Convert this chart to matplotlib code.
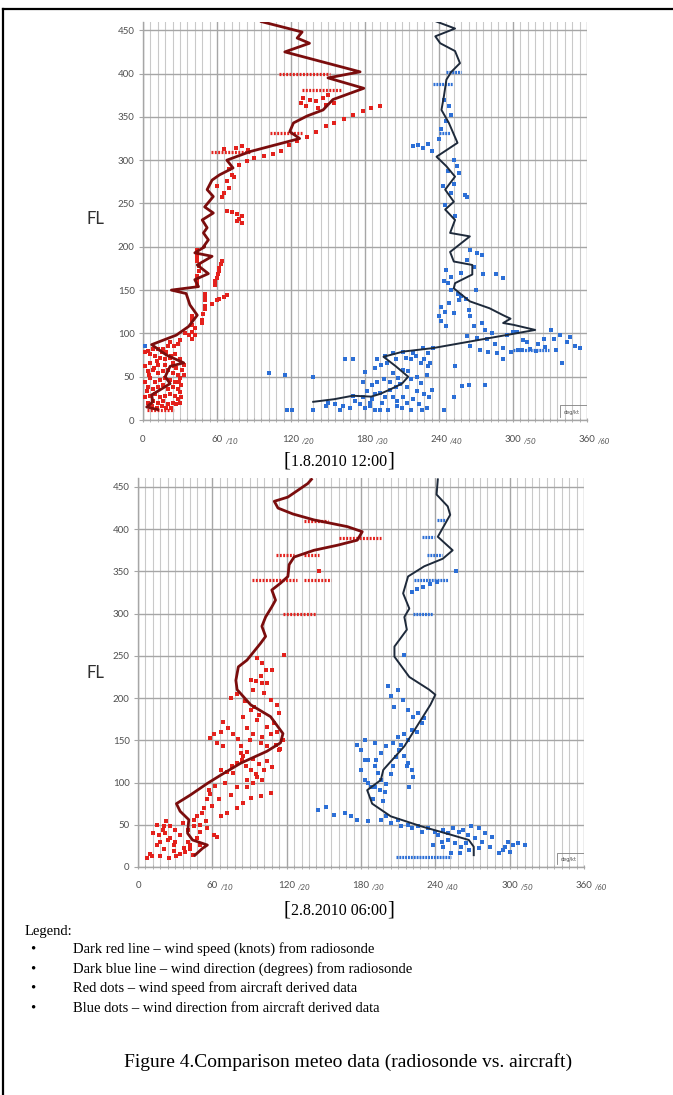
"""Radiosonde vs. aircraft wind profiles (two soundings), recreated with matplotlib."""

import matplotlib
matplotlib.use('Agg')
import matplotlib.pyplot as plt
from matplotlib.lines import Line2D
from matplotlib.ticker import MultipleLocator
import matplotlib.transforms as mtransforms

# ---------------------------------------------------------------- data
# x values are in degrees (0-360); wind speed is plotted as knots*6 so 60 deg = 10 kt
X_TICKS = [0, 60, 120, 180, 240, 300, 360]
X_MAIN = ['0', '60', '120', '180', '240', '300', '360']
X_SUFFIX = ['', '/10', '/20', '/30', '/40', '/50', '/60']
Y_TICKS = [0, 50, 100, 150, 200, 250, 300, 350, 400, 450]

# --- 1.8.2010 12:00
T_SPEED_X = [96, 129, 125, 135, 115, 176, 150, 179, 154, 146, 133, 122, 119, 127, 87, 68, 73,
             62, 56, 52, 57, 50, 57, 48, 52, 49, 53, 49, 50, 42, 56, 44, 53, 42, 45, 23, 35,
             38, 44, 37, 27, 7, 19, 33, 22, 18, 22, 14, 7, 8, 3, 12]
T_SPEED_FL = [460, 448, 441, 435, 425, 402, 395, 383, 370, 358, 351, 343, 333, 325, 310, 300,
              291, 283, 277, 266, 258, 246, 239, 231, 222, 216, 208, 200, 200, 193, 189, 179,
              169, 162, 154, 150, 146, 133, 121, 108, 98, 87, 75, 66, 62, 50, 42, 35, 29, 21,
              15, 12]
T_DIR_X = [238, 253, 237, 241, 253, 257, 250, 246, 244, 242, 248, 255, 238, 246, 253, 245,
           252, 245, 253, 249, 265, 249, 252, 267, 267, 253, 252, 265, 281, 292, 298, 292,
           300, 318, 235, 211, 195, 205, 215, 210, 200, 192, 185, 170, 155, 138]
T_DIR_FL = [460, 452, 443, 435, 426, 412, 402, 393, 374, 358, 343, 320, 304, 293, 281, 266,
            252, 243, 231, 216, 212, 194, 183, 179, 168, 158, 152, 137, 129, 121, 117, 112,
            110, 104, 83, 79, 73, 62, 50, 42, 35, 30, 27, 28, 24, 21]
T_RED_X = [130, 135, 140, 146, 150, 128, 132, 142, 148, 155,
           75, 80, 85, 66,
           192, 185, 178, 170, 163, 155, 148, 140, 133, 125, 118, 112, 105, 98, 90, 84, 78,
           70, 72, 68, 70, 66, 64, 74, 60,
           68, 72, 76, 80, 78, 80, 76,
           44, 44, 44, 44, 45, 45, 44, 44, 44,
           64, 63, 62, 62, 61, 60, 58, 58,
           62, 66, 68, 60, 56,
           50, 50, 50, 50, 50, 49, 48, 48,
           40, 40, 40, 42, 40, 42, 40, 37, 34,
           30, 28, 25, 22, 20, 16, 12, 8, 4, 2, 6, 10, 14, 18, 22, 26, 30, 24, 18, 12, 6, 2,
           4, 8, 12, 16, 20, 24, 28, 30, 26, 22, 18, 14, 10, 6, 2, 4, 8, 12, 16, 20, 24, 28,
           30, 26, 22, 18, 14, 10, 6, 2, 4, 8, 12, 16, 20, 24, 28, 30,
           32, 33, 31, 29, 27, 25, 23, 19, 15, 11, 9, 5, 3, 7, 11, 15, 19, 23, 27, 31, 33]
T_RED_FL = [372, 370, 368, 372, 375, 366, 362, 360, 364, 366,
            314, 316, 312, 313,
            362, 360, 357, 352, 348, 343, 340, 332, 327, 322, 318, 311, 307, 305, 302, 299, 295,
            290, 283, 276, 268, 262, 258, 280, 270,
            241, 240, 238, 236, 232, 228, 230,
            196, 192, 188, 184, 178, 172, 166, 160, 156,
            184, 180, 176, 172, 168, 164, 160, 156,
            140, 142, 144, 138, 134,
            146, 142, 138, 132, 128, 122, 116, 112,
            120, 115, 110, 106, 102, 98, 94, 98, 100,
            92, 88, 85, 90, 86, 82, 82, 82, 80, 78, 76, 74, 72, 70, 72, 76, 70, 66, 64, 64, 66,
            62, 56, 58, 54, 56, 58, 54, 52, 48, 44, 46, 48, 46, 44, 48, 44, 38, 36, 38, 40, 36,
            38, 36, 32, 28, 30, 28, 26, 30, 28, 26, 20, 22, 20, 22, 18, 20, 24, 20,
            58, 64, 40, 44, 60, 62, 74, 78, 78, 68, 60, 52, 34, 16, 14, 16, 14, 14, 18, 26, 52]
# horizontal runs of aircraft reports: (FL, x from, x to)
T_RED_RUNS = [(400, 110, 152), (381, 129, 161), (331, 103, 129), (310, 55, 87), (12, 3, 25)]
T_BLUE_X = [219, 223, 227, 231, 234, 254.5, 256, 261, 263, 252,
            244, 248, 250, 246, 242, 240, 252, 247, 243, 250, 245, 253,
            265, 271, 275, 263, 268, 276, 286, 292, 246, 247, 250, 255, 258, 242, 240, 242, 246,
            252, 264, 265, 268, 263, 271, 277, 279, 265, 273, 280, 287, 292, 298, 292, 304, 295,
            300, 307, 314, 319, 325, 331, 333, 338, 335, 344, 354, 340, 311, 303, 253, 259, 264,
            277, 252, 244,
            190, 196, 203, 211, 219, 227, 231, 235, 217, 225, 231, 211, 203, 195, 207, 217, 225,
            234, 208, 200, 192, 203, 211, 219, 186, 194, 206, 217, 184, 199,
            102, 115, 138, 117, 121, 138, 164, 170, 180, 150, 156, 162, 168, 172, 176, 180, 184,
            188, 160, 170, 178, 148, 2,
            188, 193, 198, 205, 213, 221, 228, 233, 186, 190, 200, 205, 214, 222, 228, 232, 188,
            196, 206, 214, 224, 230, 192, 210, 226, 182, 178, 215, 222, 230,
            245, 248, 256, 262, 244, 250, 258, 270, 275, 283, 285, 308, 320, 326, 346, 350]
T_BLUE_FL = [316, 318, 314, 319, 311, 293, 285, 260, 258, 273,
             370, 362, 352, 345, 336, 325, 300, 288, 270, 262, 248, 236,
             196, 193, 191, 185, 177, 169, 168, 164, 173, 158, 150, 146, 143, 131, 120, 114, 108,
             123, 127, 120, 108, 97, 95, 104, 93, 85, 81, 79, 77, 83, 79, 70, 81, 98,
             102, 81, 82, 80, 94, 104, 94, 98, 81, 90, 83, 66, 90, 102, 62, 39, 40,
             40, 27, 12,
             70, 74, 77, 79, 77, 83, 77, 83, 70, 66, 62, 58, 54, 47, 49, 47, 43,
             35, 41, 35, 31, 27, 27, 24, 24, 20, 16, 12, 16, 12,
             54, 52, 50, 12, 12, 12, 70, 70, 55, 20, 18, 16, 14, 22, 18, 14, 20,
             12, 12, 28, 26, 16, 85,
             60, 64, 66, 70, 72, 74, 70, 66, 40, 44, 44, 38, 38, 34, 30, 26, 30,
             26, 22, 20, 18, 14, 12, 14, 12, 34, 44, 56, 50, 52,
             125, 135, 138, 140, 160, 165, 170, 150, 112, 100, 88, 92, 88, 84, 96, 86]
T_BLUE_RUNS = [(402, 246, 258), (388, 235, 251), (331, 240, 249), (81, 300, 329)]

# --- 2.8.2010 06:00
B_SPEED_X = [140, 137, 121, 110, 113, 125, 142, 169, 181, 177, 161, 142, 126, 122, 121, 115,
             108, 111, 108, 103, 100, 103, 99, 88, 81, 79, 80, 91, 107, 117, 115, 104, 83, 67,
             56, 42, 31, 34, 41, 40, 44, 56, 52, 46]
B_SPEED_FL = [459, 454, 438, 433, 425, 418, 411, 403, 397, 387, 381, 375, 367, 358, 344, 336,
              328, 316, 308, 296, 285, 273, 265, 245, 237, 221, 210, 192, 178, 158, 147, 137,
              123, 109, 99, 85, 75, 66, 56, 40, 32, 26, 22, 14]
B_DIR_X = [242, 241, 250, 252, 242, 254, 246, 231, 218, 214, 219, 215, 217, 207, 207, 219,
           235, 240, 236, 215, 198, 196, 185, 189, 204, 229, 253, 267, 271, 271]
B_DIR_FL = [459, 441, 427, 417, 391, 375, 365, 356, 344, 324, 306, 296, 281, 261, 249, 225,
            210, 204, 192, 143, 115, 103, 91, 75, 60, 48, 38, 32, 24, 14]
B_RED_X = [146, 118,
           85, 91, 96, 104, 112, 114, 88, 93, 100, 107, 111, 114, 104, 99,
           91, 100, 93, 102, 107,
           96, 100, 103, 99, 108, 104, 95,
           69, 73, 77, 67, 58, 64, 69, 61,
           81, 83, 83, 84, 80, 85, 87,
           67, 72, 77, 91, 96, 102, 100, 88, 80, 88, 93, 107, 99, 91, 85, 80, 72, 67, 56, 57,
           58, 53, 52, 48, 45, 50, 56, 61, 64,
           15, 21, 23, 17, 22, 26, 34, 40, 48, 29, 15, 21, 29, 34, 37, 10, 7, 11, 18, 25, 31,
           42, 50,
           75, 80, 86, 94, 98, 110, 112, 117, 115, 90, 88, 93, 98, 104, 108, 95, 76, 70, 62,
           75, 65, 60, 55, 50, 45, 40, 36, 30, 26, 20, 12, 18, 24, 30, 42, 38, 44]
B_RED_FL = [350, 251,
            178, 186, 174, 166, 192, 182, 164, 158, 154, 158, 145, 139, 143, 147,
            221, 218, 210, 206, 198,
            247, 241, 233, 226, 233, 218, 220,
            172, 164, 157, 160, 153, 147, 143, 157,
            151, 143, 135, 127, 123, 131, 119,
            115, 113, 111, 115, 107, 115, 103, 103, 95, 95, 99, 88, 84, 82, 76, 70, 64, 60, 80, 91,
            86, 70, 64, 60, 56, 50, 46, 38, 36,
            50, 48, 54, 38, 40, 34, 38, 30, 34, 26, 26, 21, 19, 15, 23, 15, 11, 13, 13, 11, 13,
            21, 26,
            200, 205, 196, 190, 180, 170, 160, 150, 140, 150, 136, 128, 122, 126, 118, 110, 120,
            100, 96, 85, 80, 72, 55, 42, 48, 44, 52, 44, 48, 44, 40, 30, 32, 30, 26, 18, 14]
B_RED_RUNS = [(410, 134, 153), (389, 162, 196), (369, 111, 126), (369, 134, 146),
              (340, 92, 128), (340, 134, 156), (300, 117, 144)]
B_BLUE_X = [257, 241, 236, 230, 225, 221, 215,
            202, 204, 207, 210, 214, 218, 222, 226, 229, 231, 221, 215, 210, 206, 200, 196, 192,
            211, 215, 218, 221, 222, 217, 219, 194, 196, 191, 195, 199,
            196, 204, 212, 221, 229, 240, 242, 250, 259, 269, 275, 280, 286, 250, 256, 261, 267,
            275, 291, 296, 299, 307, 312, 295, 246, 253,
            177, 180, 183, 180, 183, 188, 186, 191, 145, 152, 158, 167, 172, 177, 186, 183, 191,
            200, 210, 218, 226, 234, 246, 254, 262, 266, 272, 278, 284, 245, 238, 260, 265, 300,
            303, 206, 208, 212, 218, 225, 204, 200, 198, 190, 186]
B_BLUE_FL = [350, 338, 335, 332, 329, 326, 251,
             214, 202, 190, 210, 198, 186, 178, 182, 170, 176, 162, 158, 154, 147, 143, 135, 127,
             139, 131, 123, 115, 107, 119, 95, 111, 103, 95, 91, 89,
             56, 52, 48, 46, 42, 42, 38, 40, 42, 48, 46, 40, 36, 32, 28, 24, 20,
             22, 17, 24, 30, 28, 26, 20, 24, 17,
             145, 139, 127, 115, 103, 95, 127, 119, 67, 71, 62, 64, 60, 56, 54, 150, 147,
             60, 56, 50, 48, 46, 44, 46, 44, 38, 34, 30, 24, 30, 26, 16, 28, 18,
             26, 120, 130, 145, 150, 160, 110, 98, 78, 80, 100]
B_BLUE_RUNS = [(411, 241, 249), (391, 229, 239), (369, 233, 245), (340, 223, 250),
               (300, 222, 238), (12, 208, 253)]

# ---------------------------------------------------------------- style
W, H = 673, 1095
SPEED_LINE = '#7b0d0d'
DIR_LINE = '#1e2a3b'
RED_DOT = '#e3211c'
BLUE_DOT = '#2c6fd6'
TICK_GREY = '#505050'


def fx(px):
    return px / W


def fy(py):
    return 1 - py / H


def draw_panel(ax, speed, direction, red, blue, red_runs, blue_runs):
    ax.set_xlim(0, 360)
    ax.set_ylim(0, 460)

    ax.xaxis.set_major_locator(MultipleLocator(60))
    ax.xaxis.set_minor_locator(MultipleLocator(6))
    ax.set_yticks(Y_TICKS)
    ax.grid(which='minor', axis='x', color='#c9c9c9', lw=0.8)
    ax.grid(which='major', axis='x', color='#a6a6a6', lw=1.0)
    ax.grid(which='major', axis='y', color='#a6a6a6', lw=1.0)
    ax.set_axisbelow(True)

    for s in ('top', 'right'):
        ax.spines[s].set_visible(False)
    for s in ('left', 'bottom'):
        ax.spines[s].set_color('#a6a6a6')
        ax.spines[s].set_linewidth(1.0)
    ax.tick_params(axis='y', which='major', length=3, color='#a6a6a6', labelsize=7,
                   labelcolor=TICK_GREY, pad=3)
    ax.tick_params(axis='x', which='both', length=3, color='#a6a6a6', direction='inout',
                   labelbottom=False)
    for lbl in ax.get_yticklabels():
        lbl.set_fontfamily('Lato')

    # custom x labels: "120" + small lowered "/20" (knots scale)
    for xv, main, suf in zip(X_TICKS, X_MAIN, X_SUFFIX):
        tr = mtransforms.blended_transform_factory(ax.transData, ax.transAxes)
        ax.text(xv, -0.048, main, transform=tr, ha='center', va='center', fontsize=7,
                color=TICK_GREY, family='Lato')
        if suf:
            off = mtransforms.offset_copy(tr, fig=ax.figure, x=2.2 + 1.7 * len(main), y=-1.6,
                                          units='points')
            ax.text(xv, -0.048, suf, transform=off, ha='left', va='center', fontsize=5.8,
                    color=TICK_GREY, family='Lato', style='italic')

    # aircraft reports
    for fl, x0, x1 in red_runs:
        ax.plot([x0, x1], [fl, fl], color=RED_DOT, lw=2.3, ls=(0, (0.6, 0.45)), zorder=3)
    for fl, x0, x1 in blue_runs:
        ax.plot([x0, x1], [fl, fl], color=BLUE_DOT, lw=2.3, ls=(0, (0.6, 0.3)), zorder=3)
    ax.scatter(red[0], red[1], s=5.5, color=RED_DOT, marker='s', lw=0, zorder=3)
    ax.scatter(blue[0], blue[1], s=5.5, color=BLUE_DOT, marker='s', lw=0, zorder=3)

    # radiosonde profiles
    ax.plot(speed[0], speed[1], color=SPEED_LINE, lw=2.0, zorder=4, solid_joinstyle='round')
    ax.plot(direction[0], direction[1], color=DIR_LINE, lw=1.4, zorder=4,
            solid_joinstyle='round')

    # small unit box in the lower right corner
    ax.plot([338, 338, 360], [3, 17, 17], color='#808080', lw=0.6, zorder=5)
    ax.text(341, 9, 'deg/kt', fontsize=3.6, color='#505050', va='center', zorder=5)


fig = plt.figure(figsize=(W / 100, H / 100), dpi=100)

ax1 = fig.add_axes([fx(143), fy(420), fx(587) - fx(143), fy(21.6) - fy(420)])
draw_panel(ax1, (T_SPEED_X, T_SPEED_FL), (T_DIR_X, T_DIR_FL), (T_RED_X, T_RED_FL),
           (T_BLUE_X, T_BLUE_FL), T_RED_RUNS, T_BLUE_RUNS)

ax2 = fig.add_axes([fx(138), fy(867), fx(584) - fx(138), fy(478.5) - fy(867)])
draw_panel(ax2, (B_SPEED_X, B_SPEED_FL), (B_DIR_X, B_DIR_FL), (B_RED_X, B_RED_FL),
           (B_BLUE_X, B_BLUE_FL), B_RED_RUNS, B_BLUE_RUNS)

# axis name
fig.text(fx(86), fy(219), 'FL', fontsize=12, family='Lato', color='#303030', va='center')
fig.text(fx(86), fy(673), 'FL', fontsize=12, family='Lato', color='#303030', va='center')

# panel captions
serif = 'Liberation Serif'
for cy, label in ((462, '1.8.2010 12:00'), (911, '2.8.2010 06:00')):
    fig.text(fx(339), fy(cy), label, fontsize=11.5, family=serif, ha='center', va='center')
    fig.text(fx(287), fy(cy - 1), '[', fontsize=15, family=serif, ha='center', va='center')
    fig.text(fx(391), fy(cy - 1), ']', fontsize=15, family=serif, ha='center', va='center')

# legend block
fig.text(fx(25), fy(932), 'Legend:', fontsize=10.5, family=serif, va='center')
legend_lines = [
    'Dark red line \u2013 wind speed (knots) from radiosonde',
    'Dark blue line \u2013 wind direction (degrees) from radiosonde',
    'Red dots \u2013 wind speed from aircraft derived data',
    'Blue dots \u2013 wind direction from aircraft derived data',
]
for i, txt in enumerate(legend_lines):
    yy = 949 + i * 19.7
    fig.text(fx(30), fy(yy), '\u2022', fontsize=10.5, family=serif, va='center')
    fig.text(fx(73), fy(yy), txt, fontsize=10.5, family=serif, va='center')

fig.text(fx(348), fy(1062), 'Figure 4.Comparison meteo data (radiosonde vs. aircraft)',
         fontsize=14, family=serif, ha='center', va='center')

# page frame (top and left edge only)
fig.add_artist(Line2D([fx(3), fx(672)], [fy(9), fy(9)], color='black', lw=1.6))
fig.add_artist(Line2D([fx(3), fx(3)], [fy(9), 0], color='black', lw=1.6))

fig.savefig('out.png', dpi=100)
